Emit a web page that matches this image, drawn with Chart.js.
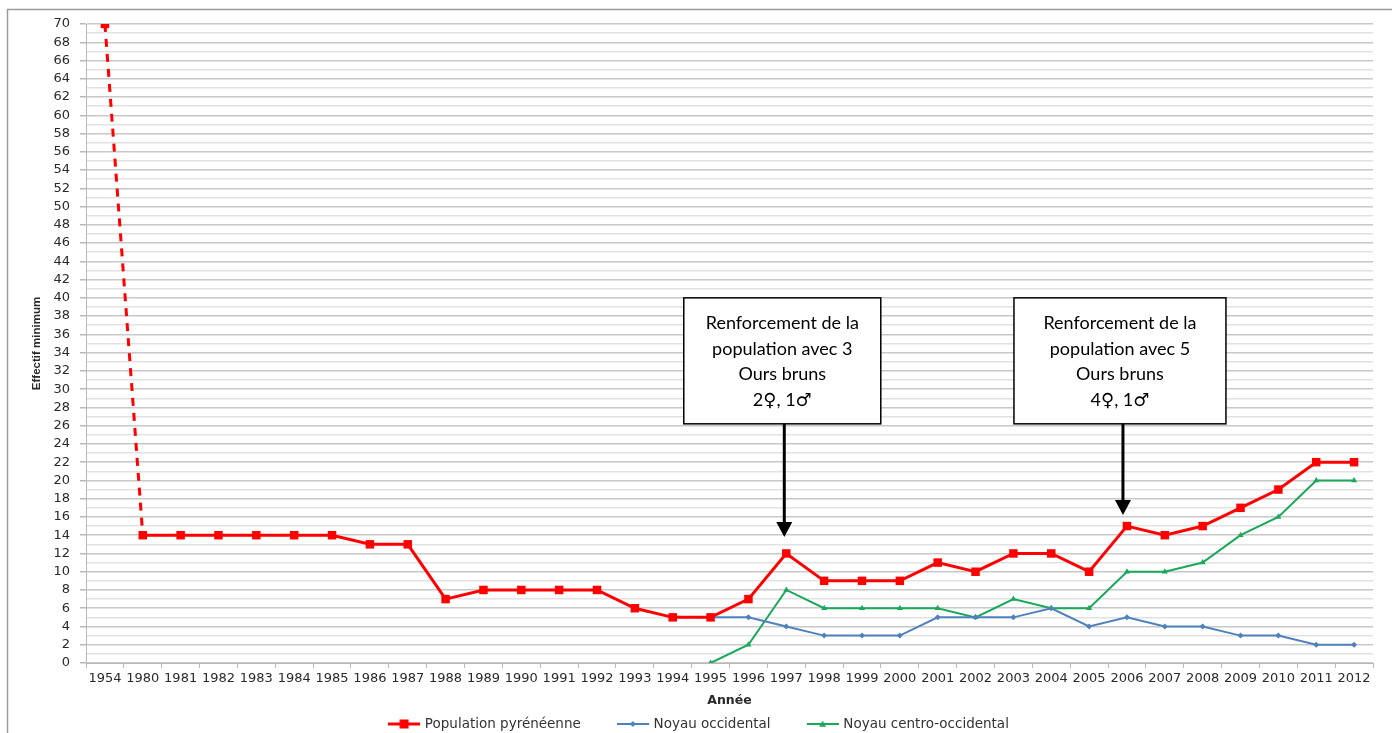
<!DOCTYPE html>
<html><head><meta charset="utf-8">
<script src="https://cdn.jsdelivr.net/npm/chart.js@4/dist/chart.umd.min.js"></script>
<style>html,body{margin:0;padding:0;background:#fff;overflow:hidden;} #wrap{width:1392px;height:733px;position:relative;}</style>
</head><body><div id="wrap"><canvas id="c" width="1392" height="733"></canvas></div>
<script>
// ---- data ----
const years = ['1954','1980','1981','1982','1983','1984','1985','1986','1987','1988','1989','1990','1991','1992','1993','1994','1995','1996','1997','1998','1999','2000','2001','2002','2003','2004','2005','2006','2007','2008','2009','2010','2011','2012'];
const populationPyreneenne = [70,14,14,14,14,14,14,13,13,7,8,8,8,8,6,5,5,7,12,9,9,9,11,10,12,12,10,15,14,15,17,19,22,22];
const noyauOccidental = [null,null,null,null,null,null,null,null,null,null,null,null,null,null,null,null,5,5,4,3,3,3,5,5,5,6,4,5,4,4,3,3,2,2];
const noyauCentroOccidental = [null,null,null,null,null,null,null,null,null,null,null,null,null,null,null,null,0,2,8,6,6,6,6,5,7,6,6,10,10,11,14,16,20,20];
const seriesNames = ['Population pyrénéenne','Noyau occidental','Noyau centro-occidental'];
const yTicksMax = 70;
const annotationYears = ['1997','2006'];
const annotationTexts = [
  ['Renforcement de la','population avec 3','Ours bruns','2\u2640, 1\u2642'],
  ['Renforcement de la','population avec 5','Ours bruns','4\u2640, 1\u2642']
];
const annotationTipValues = [13.8, 16.2];
const annotationBoxTopValues = [40, 40];
const annotationBoxBottomValues = [26.2, 26.2];

// ---- styles ----
const RED = '#ff0000', BLUE = '#4f81bd', GREEN = '#1aa85a';
const TICK_FONT = {family: "'DejaVu Sans'", size: 13};

function legendMarker(color, lw, style, r) {
  const c = document.createElement('canvas');
  c.width = 32; c.height = 14;
  const g = c.getContext('2d');
  g.strokeStyle = color; g.lineWidth = lw;
  g.beginPath(); g.moveTo(0, 7); g.lineTo(32, 7); g.stroke();
  g.fillStyle = color;
  g.beginPath();
  if (style === 'rect') { g.rect(16 - r, 7 - r, 2 * r, 2 * r); }
  else if (style === 'diamond') { g.moveTo(16, 7 - r); g.lineTo(16 + r, 7); g.lineTo(16, 7 + r); g.lineTo(16 - r, 7); g.closePath(); }
  else { g.moveTo(16, 7 - r); g.lineTo(16 + r, 7 + r * 0.8); g.lineTo(16 - r, 7 + r * 0.8); g.closePath(); }
  g.fill();
  return c;
}
const legendImages = [legendMarker(RED, 3, 'rect', 4.5), legendMarker(BLUE, 2, 'diamond', 3), legendMarker(GREEN, 2, 'tri', 3.5)];

const framePlugin = {
  id: 'frame',
  beforeDraw(chart) {
    const g = chart.ctx;
    g.save();
    g.fillStyle = '#fff'; g.fillRect(0, 0, chart.width, chart.height);
    g.strokeStyle = '#9a9a9a'; g.lineWidth = 1.5;
    g.strokeRect(7.5, 9.5, chart.width + 20, chart.height + 20);
    g.restore();
  }
};

const LEGEND_PAD = 38, LEGEND_FONT = 13.5;
const legendShift = {
  id: 'legendShift',
  afterLayout(chart) {
    const lg = chart.legend;
    if (!lg) return;
    lg.top = 724 - LEGEND_PAD - LEGEND_FONT / 2;
    lg.bottom = chart.height;
    lg.height = lg.bottom - lg.top;
    lg.left += 13; lg.right += 13;
  }
};

const annotationPlugin = {
  id: 'boxes',
  afterDraw(chart) {
    const g = chart.ctx, xs = chart.scales.x, ys = chart.scales.y;
    const widths = [197, 212];
    const arrowOffsets = [-2, -4];
    const boxOffsets = [-2, -3];
    g.save();
    annotationYears.forEach((yr, i) => {
      const idx = years.indexOf(yr);
      const ax = xs.getPixelForValue(idx) + arrowOffsets[i];
      const top = ys.getPixelForValue(annotationBoxTopValues[i]);
      const bot = ys.getPixelForValue(annotationBoxBottomValues[i]);
      const tip = ys.getPixelForValue(annotationTipValues[i]);
      const cx = ax + boxOffsets[i], w = widths[i];
      g.fillStyle = '#fff';
      g.fillRect(cx - w / 2, top, w, bot - top);
      g.strokeStyle = '#000'; g.lineWidth = 1.5;
      g.strokeRect(cx - w / 2, top, w, bot - top);
      g.fillStyle = '#000';
      g.font = "18px Lato, 'DejaVu Sans'";
      g.textAlign = 'center'; g.textBaseline = 'middle';
      const lines = annotationTexts[i], lh = 25.5;
      const mid = (top + bot) / 2;
      lines.forEach((t, k) => g.fillText(t, cx, mid + (k - (lines.length - 1) / 2) * lh + 1));
      const ah = 15, aw = 8;
      g.lineWidth = 3;
      g.beginPath(); g.moveTo(ax, bot); g.lineTo(ax, tip - ah + 1); g.stroke();
      g.beginPath(); g.moveTo(ax - aw, tip - ah); g.lineTo(ax + aw, tip - ah); g.lineTo(ax, tip); g.closePath(); g.fill();
    });
    g.restore();
  }
};

new Chart(document.getElementById('c'), {
  type: 'line',
  data: {
    labels: years,
    datasets: [
      {
        label: seriesNames[0], data: populationPyreneenne,
        borderColor: RED, backgroundColor: RED, borderWidth: 3,
        pointStyle: 'rect', pointRadius: 6, pointBorderWidth: 0, pointHoverRadius: 6,
        segment: { borderDash: ctx => ctx.p0DataIndex === 0 ? [8, 7] : undefined },
        tension: 0
      },
      {
        label: seriesNames[1], data: noyauOccidental,
        borderColor: BLUE, backgroundColor: BLUE, borderWidth: 2,
        pointStyle: 'rectRot', pointRadius: 3, pointBorderWidth: 0,
        tension: 0
      },
      {
        label: seriesNames[2], data: noyauCentroOccidental,
        borderColor: GREEN, backgroundColor: GREEN, borderWidth: 2,
        pointStyle: 'triangle', pointRadius: 3.5, pointBorderWidth: 0,
        tension: 0
      }
    ]
  },
  options: {
    responsive: false, animation: false, devicePixelRatio: 1,
    layout: { padding: { top: 24, right: 19, left: 0, bottom: 0 } },
    plugins: {
      tooltip: { enabled: false },
      legend: {
        position: 'bottom', maxHeight: 20,
        labels: {
          usePointStyle: true, pointStyleWidth: 28, padding: LEGEND_PAD,
          font: { family: "'DejaVu Sans'", size: LEGEND_FONT }, color: '#333',
          generateLabels(chart) {
            const items = Chart.defaults.plugins.legend.labels.generateLabels(chart);
            items.sort((a, b) => a.datasetIndex - b.datasetIndex);
            items.forEach(it => { it.pointStyle = legendImages[it.datasetIndex]; it.lineDash = []; });
            return items;
          }
        }
      }
    },
    scales: {
      x: {
        offset: true,
        grid: { offset: true, drawOnChartArea: false, drawTicks: true, tickLength: 5, color: '#b8b8b8' },
        border: { color: '#b8b8b8', width: 1 },
        ticks: { autoSkip: false, maxRotation: 0, minRotation: 0, padding: 3, color: '#2a2a2a', font: TICK_FONT },
        title: { display: true, text: 'Année', color: '#2a2a2a', font: { family: "'DejaVu Sans'", size: 12.5, weight: 'bold' }, padding: { top: 2, bottom: 5 } },
        afterFit(s) { s.height = 50; }
      },
      y: {
        min: 0, max: yTicksMax,
        grid: {
          drawTicks: true, tickLength: 6,
          color: c => (c.tick && c.tick.value % 2 === 0) ? '#c8c8c8' : '#e2e2e2',
          tickColor: c => (c.tick && c.tick.value % 2 === 0) ? '#b8b8b8' : 'rgba(0,0,0,0)',
          lineWidth: 1.5
        },
        border: { color: '#b8b8b8', width: 1 },
        ticks: { stepSize: 1, autoSkip: false, padding: 10, color: '#2a2a2a', font: TICK_FONT,
          callback: v => (v % 2 === 0 ? String(v) : '') },
        title: { display: true, text: 'Effectif minimum', color: '#2a2a2a', font: { family: "'Liberation Sans'", size: 11.5, weight: 'bold' }, padding: { top: 30, bottom: 0 } },
        afterFit(s) { s.width = 86; }
      }
    }
  },
  plugins: [framePlugin, legendShift, annotationPlugin]
});
</script>
</body></html>
